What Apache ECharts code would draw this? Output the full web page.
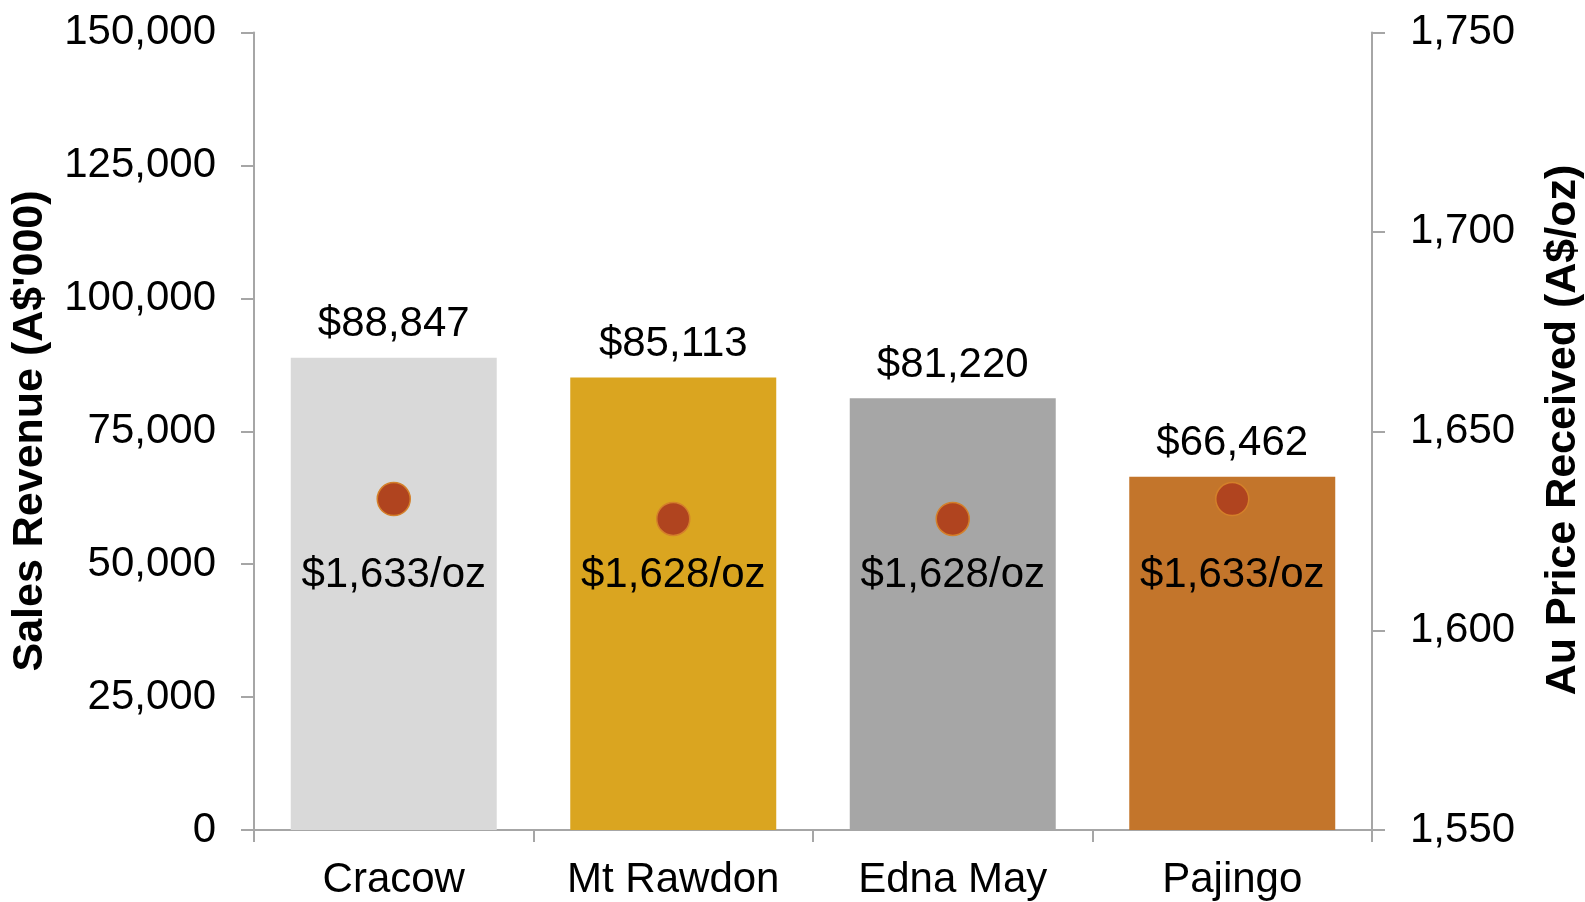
<!DOCTYPE html>
<html>
<head>
<meta charset="utf-8">
<script src="https://cdn.jsdelivr.net/npm/echarts@6/dist/echarts.min.js"></script>
<style>
html,body{margin:0;padding:0;background:#fff;}
#chart{width:1585px;height:902px;}
</style>
</head>
<body>
<div id="chart"></div>
<script>
const categories = ['Cracow', 'Mt Rawdon', 'Edna May', 'Pajingo'];
const revenue = [88847, 85113, 81220, 66462];
const price = [1633, 1628, 1628, 1633];
const barColors = ['#D9D9D9', '#DAA520', '#A6A6A6', '#C3752B'];
const leftTitle = "Sales Revenue (A$'000)";
const rightTitle = 'Au Price Received (A$/oz)';

const FONT = "'Liberation Sans', Arial, sans-serif";
const fmt = v => v.toLocaleString('en-US');
const axisGrey = '#A6A6A6';
// price labels sit on one common level (in right-axis units)
const priceLabelLevel = 1613.9;

const chart = echarts.init(document.getElementById('chart'), null, {renderer: 'canvas'});
chart.setOption({
  animation: false,
  backgroundColor: '#fff',
  textStyle: {fontFamily: FONT},
  grid: {left: 254, right: 213, top: 32.5, bottom: 72, containLabel: false},
  xAxis: {
    type: 'category',
    data: categories,
    axisLine: {lineStyle: {color: axisGrey, width: 2}},
    axisTick: {show: true, length: 12, alignWithLabel: false, lineStyle: {color: axisGrey, width: 2}},
    axisLabel: {color: '#000', fontSize: 42, fontFamily: FONT, margin: 29}
  },
  yAxis: [{
    type: 'value', min: 0, max: 150000, interval: 25000,
    axisLine: {show: true, lineStyle: {color: axisGrey, width: 2}},
    axisTick: {show: true, length: 13, lineStyle: {color: axisGrey, width: 2}},
    splitLine: {show: false},
    axisLabel: {color: '#000', fontSize: 42, fontFamily: FONT, margin: 38, formatter: v => fmt(v)}
  }, {
    type: 'value', min: 1550, max: 1750, interval: 50, position: 'right',
    axisLine: {show: true, lineStyle: {color: axisGrey, width: 2}},
    axisTick: {show: true, length: 13, lineStyle: {color: axisGrey, width: 2}},
    splitLine: {show: false},
    axisLabel: {color: '#000', fontSize: 42, fontFamily: FONT, margin: 38, formatter: v => fmt(v)}
  }],
  graphic: [{
    type: 'text', x: 30, y: 431, rotation: Math.PI / 2,
    style: {text: leftTitle, font: "bold 43px " + FONT, fill: '#000', textAlign: 'center', textVerticalAlign: 'middle'}
  }, {
    type: 'text', x: 1563, y: 430, rotation: Math.PI / 2,
    style: {text: rightTitle, font: "bold 43px " + FONT, fill: '#000', textAlign: 'center', textVerticalAlign: 'middle'}
  }],
  series: [{
    type: 'bar',
    yAxisIndex: 0,
    barWidth: '73.7%',
    data: revenue.map((v, i) => ({value: v, itemStyle: {color: barColors[i]}})),
    label: {show: true, position: 'top', distance: 12, color: '#000', fontSize: 42, fontFamily: FONT,
      formatter: p => '$' + fmt(p.value)}
  }, {
    type: 'scatter',
    yAxisIndex: 1,
    symbol: 'circle',
    symbolSize: 33,
    data: price,
    itemStyle: {color: '#B0441F', borderColor: '#D4802A', borderWidth: 1.5, opacity: 1},
    label: {show: false}
  }, {
    type: 'scatter',
    yAxisIndex: 1,
    symbol: 'circle',
    symbolSize: 2,
    silent: true,
    data: price.map(() => priceLabelLevel),
    itemStyle: {color: 'rgba(0,0,0,0)', opacity: 1},
    label: {show: true, position: 'inside', color: '#000', opacity: 1, fontSize: 42, fontFamily: FONT,
      formatter: p => '$' + fmt(price[p.dataIndex]) + '/oz'}
  }]
});
</script>
</body>
</html>
